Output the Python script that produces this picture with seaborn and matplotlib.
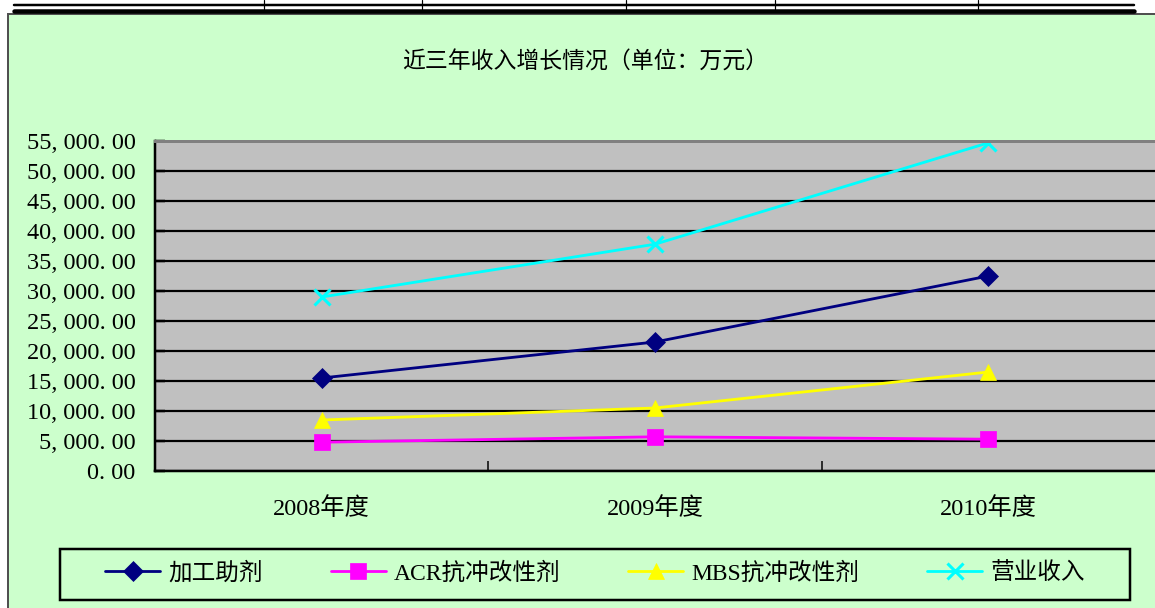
import matplotlib
matplotlib.use("Agg")
import matplotlib.pyplot as plt
from matplotlib.patches import Rectangle
from matplotlib.lines import Line2D
from matplotlib.ticker import FixedLocator, FuncFormatter
import seaborn as sns
import pandas as pd

# ---- data (万元) ----
years = ["2008年度", "2009年度", "2010年度"]
processing_aid = [15500, 21500, 32500]      # 加工助剂
acr_modifier = [4800, 5700, 5300]           # ACR抗冲改性剂
mbs_modifier = [8500, 10500, 16500]         # MBS抗冲改性剂
total_revenue = [29000, 37800, 54700]       # 营业收入

series_names = ["加工助剂", "ACR抗冲改性剂", "MBS抗冲改性剂", "营业收入"]
series_values = [processing_aid, acr_modifier, mbs_modifier, total_revenue]
series_colors = ["#000080", "#FF00FF", "#FFFF00", "#00FFFF"]
series_markers = ["D", "s", "^", "x"]
series_msize = [10.5, 11, 11, 11]

title = "近三年收入增长情况（单位：万元）"
y_ticks = list(range(0, 55001, 5000))

sns.set_theme(style="white")
plt.rcParams["font.family"] = ["Liberation Serif", "Noto Sans CJK SC", "DejaVu Sans"]

W, H = 1155, 608
fig = plt.figure(figsize=(W / 100, H / 100), dpi=100, facecolor="white")


def fx(x):
    return x / W


def fy(y):
    return 1 - y / H


PT = 0.72  # points per pixel at 100 dpi

# chart panel background
fig.patches.append(Rectangle((fx(8), fy(640)), fx(1160), fy(14) - fy(640),
                             transform=fig.transFigure, facecolor="#CCFFCC",
                             edgecolor="#505050", linewidth=2 * PT, zorder=-1))

# table rules above the chart
fig.add_artist(Line2D([fx(14), fx(1134)], [fy(5), fy(5)], color="black",
                      linewidth=2.5 * PT, transform=fig.transFigure))
fig.add_artist(Line2D([fx(14), fx(1134)], [fy(11), fy(11)], color="black",
                      linewidth=4.5 * PT, transform=fig.transFigure))
for vx in [264, 422, 626, 775, 978]:
    fig.add_artist(Line2D([fx(vx), fx(vx)], [fy(0), fy(9)], color="black",
                          linewidth=1.2 * PT, transform=fig.transFigure))

# plot area
ax = fig.add_axes([fx(155), fy(471), fx(1155) - fx(155), fy(141) - fy(471)])
ax.set_zorder(1)
ax.set_facecolor("#C0C0C0")

df = pd.DataFrame({
    "年度": years * len(series_names),
    "收入": [v for vals in series_values for v in vals],
    "项目": [n for n in series_names for _ in years],
})

for name, color, marker, ms in zip(series_names, series_colors, series_markers, series_msize):
    sub = df[df["项目"] == name]
    sns.lineplot(data=sub, x="年度", y="收入", ax=ax, color=color, marker=marker,
                 markersize=ms, linewidth=2.8 * PT, label=name, sort=False,
                 markeredgecolor=color,
                 markeredgewidth=2.2 if marker == "x" else 0.5)

ax.set_xlim(-0.5, 2.5)
ax.set_ylim(0, 55000)
ax.set_xlabel("")
ax.set_ylabel("")

ax.yaxis.set_major_locator(FixedLocator(y_ticks))
ax.yaxis.set_major_formatter(FuncFormatter(
    lambda v, p: f"{v:,.2f}".replace(",", ", ").replace(".", ". ")))
ax.grid(axis="y", color="black", linewidth=2.2 * PT)
ax.grid(axis="x", visible=False)
ax.set_axisbelow(True)

ax.set_xticks(range(len(years)))
ax.set_xticklabels(years)
ax.set_xticks([0.5, 1.5], minor=True)
ax.tick_params(axis="x", which="major", length=0, pad=19, labelsize=17.5,
               labelcolor="black")
ax.tick_params(axis="x", which="minor", direction="in", length=7, width=1.5 * PT,
               color="black", bottom=True)
ax.tick_params(axis="y", which="major", direction="in", length=7, width=2.5 * PT,
               color="black", left=True, pad=14, labelsize=17.5, labelcolor="black")

for side in ["left", "bottom"]:
    ax.spines[side].set_color("black")
    ax.spines[side].set_linewidth(2.5 * PT)
ax.spines["top"].set_color("#808080")
ax.spines["top"].set_linewidth(3 * PT)
ax.spines["right"].set_visible(False)

# title
fig.text(fx(585), fy(62), title, ha="center", va="center", fontsize=16.5,
         color="black", family=["Noto Sans CJK SC", "DejaVu Sans"])

# legend
handles, labels = ax.get_legend_handles_labels()
ax.get_legend().remove()
fs = 17
fs_px = fs / PT
leg = fig.legend(handles, labels, loc="center left",
                 bbox_to_anchor=(fx(105), fy(573)), ncol=4, frameon=False,
                 fontsize=fs, borderpad=0, borderaxespad=0,
                 handlelength=55 / fs_px, handletextpad=8 / fs_px,
                 columnspacing=68 / fs_px)
for t in leg.get_texts():
    t.set_color("black")
fig.patches.append(Rectangle((fx(60), fy(600)), fx(1130) - fx(60), fy(549) - fy(600),
                             transform=fig.transFigure, facecolor="none",
                             edgecolor="black", linewidth=2.5 * PT, zorder=2))

fig.savefig("out.png", dpi=100, facecolor="white")
